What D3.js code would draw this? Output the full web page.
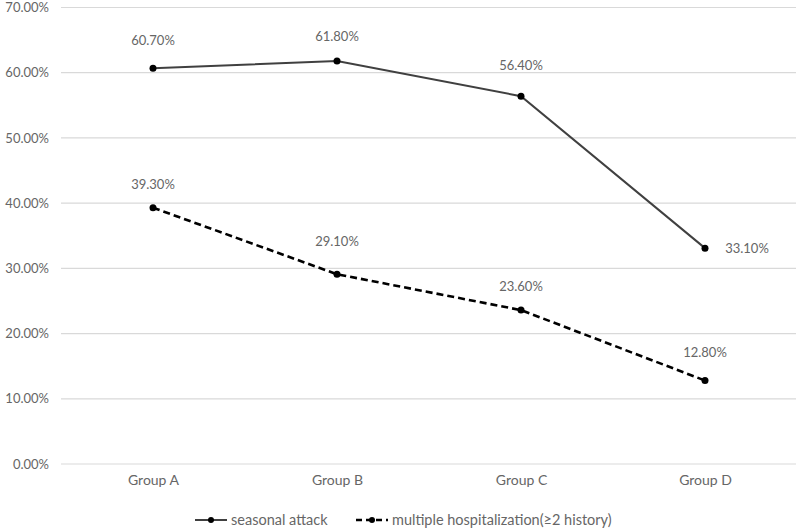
<!DOCTYPE html>
<html><head><meta charset="utf-8">
<script src="https://cdn.jsdelivr.net/npm/d3@7"></script>
<style>body{margin:0;background:#fff}svg{display:block}</style>
</head><body>
<svg id="c" width="800" height="532"></svg>
<script>
const categories = ["Group A","Group B","Group C","Group D"];
const seasonal = [60.7, 61.8, 56.4, 33.1];
const multiple = [39.3, 29.1, 23.6, 12.8];
const seriesNames = ["seasonal attack","multiple hospitalization(\u22652 history)"];
const yTicks = [0,10,20,30,40,50,60,70];

const svg = d3.select("#c");
const font = "Lato, 'Open Sans', sans-serif";
const txt = "#666";
const x = d3.scalePoint().domain(categories).range([153,705]);
const y = d3.scaleLinear().domain([0,70]).range([464,7.5]);

// gridlines
svg.append("g").selectAll("line").data(yTicks).join("line")
  .attr("x1",61).attr("x2",796)
  .attr("y1",d=>y(d)).attr("y2",d=>y(d))
  .attr("stroke","#d9d9d9").attr("stroke-width",1.2);

// y axis labels
const yAxis = d3.axisLeft(y).tickValues(yTicks).tickSize(0).tickPadding(0)
  .tickFormat(d=>d3.format(".2f")(d)+"%");
const ya = svg.append("g").attr("transform","translate(49,0)").call(yAxis);
ya.select(".domain").remove();
ya.selectAll("text").attr("fill",txt).style("font-family",font).style("font-size","13px");

// x axis labels
const xAxis = d3.axisBottom(x).tickSize(0).tickPadding(0);
const xa = svg.append("g").attr("transform","translate(0,475)").call(xAxis);
xa.select(".domain").remove();
xa.selectAll("text").attr("fill",txt).style("font-family",font).style("font-size","14px");

const line = d3.line().x((d,i)=>x(categories[i])).y(d=>y(d));

const series = [
  {name:seriesNames[0], vals:seasonal, color:"#404040", dash:null, w:2},
  {name:seriesNames[1], vals:multiple, color:"#000", dash:"7,4", w:2.6}
];
// label offsets (layout)
const labelDy = [[-28,-25,-31,0],[-23,-33,-24,-28]];

series.forEach((s,si)=>{
  svg.append("path").datum(s.vals).attr("d",line)
    .attr("fill","none").attr("stroke",s.color).attr("stroke-width",s.w)
    .attr("stroke-dasharray",s.dash);
  svg.append("g").selectAll("circle").data(s.vals).join("circle")
    .attr("cx",(d,i)=>x(categories[i])).attr("cy",d=>y(d)).attr("r",3.5).attr("fill","#000");
  svg.append("g").selectAll("text").data(s.vals).join("text")
    .attr("x",(d,i)=> (si===0 && i===3) ? x(categories[i])+42 : x(categories[i]))
    .attr("y",(d,i)=> y(d)+labelDy[si][i])
    .attr("dy","0.35em").attr("text-anchor","middle")
    .attr("fill",txt).style("font-family",font).style("font-size","13px")
    .text(d=>d3.format(".2f")(d)+"%");
});

// legend
const legX = [195, 356];
series.forEach((s,si)=>{
  const g = svg.append("g").attr("transform",`translate(${legX[si]},520)`);
  g.append("line").attr("x1",0).attr("x2",32).attr("y1",0).attr("y2",0)
    .attr("stroke",s.color).attr("stroke-width",s.w).attr("stroke-dasharray",s.dash?"6,4":null);
  g.append("circle").attr("cx",16).attr("cy",0).attr("r",3).attr("fill","#000");
  g.append("text").attr("x",36).attr("y",0).attr("dy","0.35em")
    .attr("fill",txt).style("font-family",font).style("font-size","14.5px").text(s.name);
});
</script>
</body></html>
